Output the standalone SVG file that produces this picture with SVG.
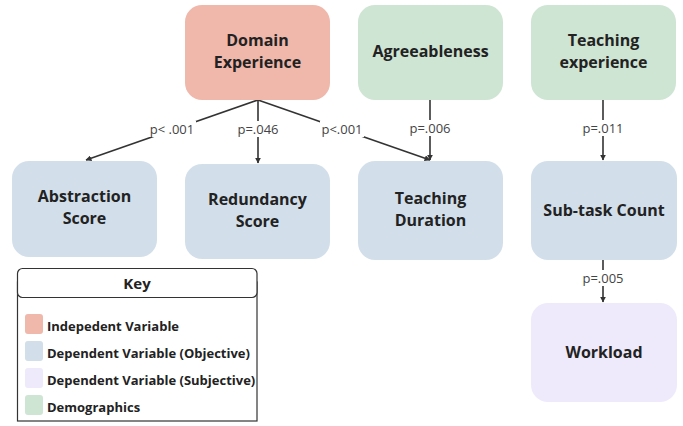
<svg xmlns="http://www.w3.org/2000/svg" width="683" height="426" viewBox="0 0 683 426">
<style>
.n{font-family:"Open Sans","Noto Sans",sans-serif;font-weight:700;font-size:16px;fill:#222;text-anchor:middle;dominant-baseline:central}
.l{font-family:"Open Sans","Noto Sans",sans-serif;font-size:13px;fill:#444;text-anchor:middle;dominant-baseline:central}
.k{font-family:"Open Sans","Noto Sans",sans-serif;font-weight:700;font-size:13px;fill:#222;dominant-baseline:central}
.e{stroke:#333;stroke-width:1.6;fill:none;marker-end:url(#a)}
.lb{fill:#fff}
</style>
<defs>
<marker id="a" viewBox="0 0 10 10" refX="9" refY="5" markerWidth="6" markerHeight="6" orient="auto" markerUnits="userSpaceOnUse"><path d="M0,0L10,5L0,10z" fill="#333"/></marker>
</defs>
<rect width="683" height="426" fill="#fff"/>
<g id="connectors">
<line class="e" x1="258" y1="100" x2="86" y2="160"/>
<line class="e" x1="258" y1="100" x2="258" y2="163"/>
<line class="e" x1="258" y1="100" x2="430" y2="160"/>
<line class="e" x1="430" y1="100" x2="430" y2="160"/>
<line class="e" x1="603" y1="100" x2="603" y2="160"/>
<line class="e" x1="603" y1="260" x2="603" y2="302"/>
<rect class="lb" x="148" y="121" width="48" height="16"/>
<text class="l" x="172" y="129">p&lt; .001</text>
<rect class="lb" x="236" y="121" width="44" height="16"/>
<text class="l" x="258" y="129">p=.046</text>
<rect class="lb" x="320" y="121" width="44" height="16"/>
<text class="l" x="342" y="129">p&lt;.001</text>
<rect class="lb" x="408" y="120" width="44" height="16"/>
<text class="l" x="430" y="128">p=.006</text>
<rect class="lb" x="582" y="120" width="42" height="16"/>
<text class="l" x="603" y="128">p=.011</text>
<rect class="lb" x="581" y="270" width="44" height="16"/>
<text class="l" x="603" y="278">p=.005</text>
</g>
<g id="domain-experience">
<rect x="185" y="5" width="145" height="95" rx="17" fill="#F0B8AB"/>
<text class="n" x="257.5" y="40">Domain</text>
<text class="n" x="257.5" y="62">Experience</text>
</g>
<g id="agreeableness">
<rect x="358" y="5" width="145" height="95" rx="17" fill="#CFE5D3"/>
<text class="n" x="430.5" y="51">Agreeableness</text>
</g>
<g id="teaching-experience">
<rect x="531" y="5" width="145" height="95" rx="17" fill="#CFE5D3"/>
<text class="n" x="603.5" y="40">Teaching</text>
<text class="n" x="603.5" y="62">experience</text>
</g>
<g id="abstraction-score">
<rect x="12" y="161" width="145" height="96" rx="17" fill="#D2DFEA"/>
<text class="n" x="84.5" y="196">Abstraction</text>
<text class="n" x="84.5" y="218">Score</text>
</g>
<g id="redundancy-score">
<rect x="185" y="164" width="145" height="95" rx="17" fill="#D2DFEA"/>
<text class="n" x="257.5" y="199">Redundancy</text>
<text class="n" x="257.5" y="221">Score</text>
</g>
<g id="teaching-duration">
<rect x="358" y="161" width="145" height="99" rx="17" fill="#D2DFEA"/>
<text class="n" x="430.5" y="198">Teaching</text>
<text class="n" x="430.5" y="220">Duration</text>
</g>
<g id="sub-task-count">
<rect x="531" y="161" width="146" height="99" rx="17" fill="#D2DFEA"/>
<text class="n" x="604" y="210">Sub-task Count</text>
</g>
<g id="workload">
<rect x="531" y="303" width="146" height="99" rx="17" fill="#EEEAFB"/>
<text class="n" x="604" y="352">Workload</text>
</g>
<g id="key">
<rect x="17.5" y="282" width="239.5" height="139" fill="#fff" stroke="#333" stroke-width="1.2"/>
<rect x="17.5" y="268.5" width="239.5" height="29" rx="5" fill="#fff" stroke="#333" stroke-width="1.2"/>
<text class="k" x="137" y="283" text-anchor="middle" style="font-size:15px">Key</text>
<rect x="25" y="314" width="18" height="20" rx="3" fill="#F0B8AB"/>
<text class="k" x="47" y="326">Indepedent Variable</text>
<rect x="25" y="341" width="18" height="20" rx="3" fill="#D2DFEA"/>
<text class="k" x="47" y="353">Dependent Variable (Objective)</text>
<rect x="25" y="368" width="18" height="20" rx="3" fill="#EEEAFB"/>
<text class="k" x="47" y="380">Dependent Variable (Subjective)</text>
<rect x="25" y="395" width="18" height="20" rx="3" fill="#CFE5D3"/>
<text class="k" x="47" y="407">Demographics</text>
</g>
</svg>
